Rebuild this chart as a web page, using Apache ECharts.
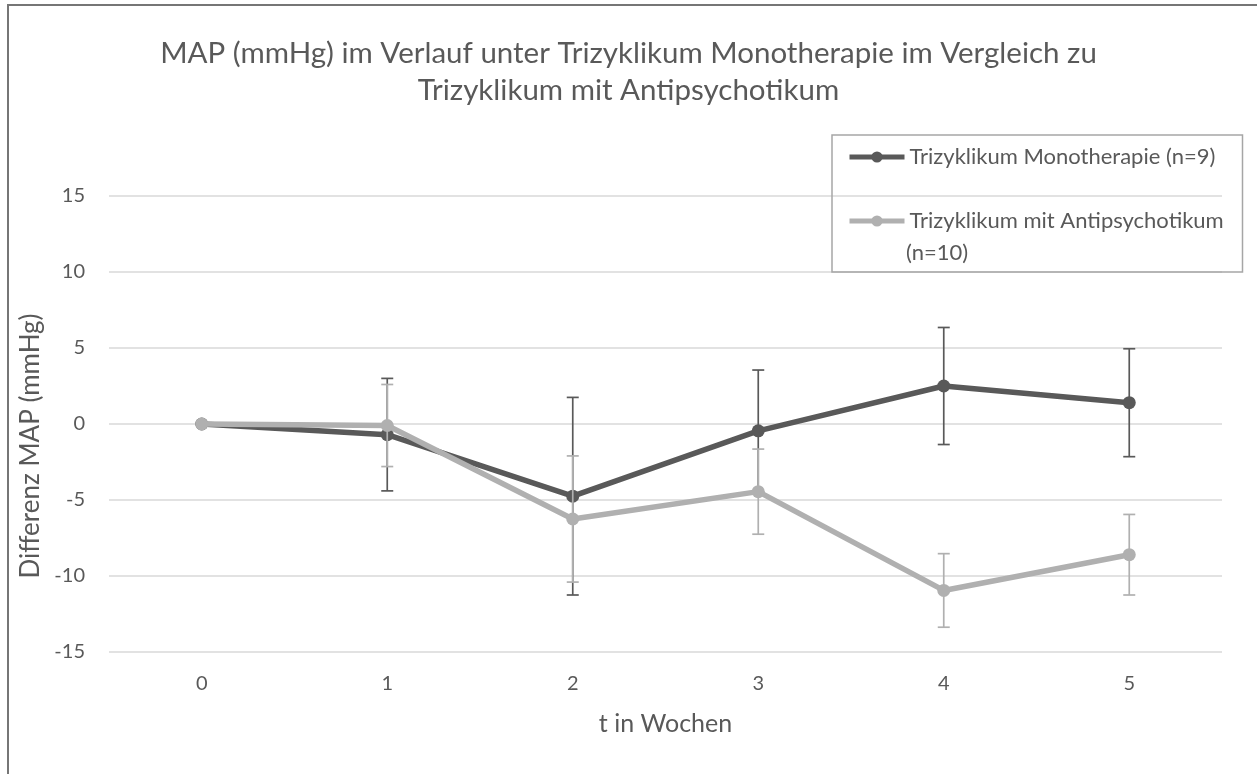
<!DOCTYPE html>
<html>
<head>
<meta charset="utf-8">
<script src="https://cdn.jsdelivr.net/npm/echarts@6/dist/echarts.min.js"></script>
<style>
html,body{margin:0;padding:0;background:#fff;}
#chart{width:1257px;height:774px;}
</style>
</head>
<body>
<div id="chart"></div>
<script>
const categories = ['0', '1', '2', '3', '4', '5'];
const yTicks = [-15, -10, -5, 0, 5, 10, 15];
const monoName = 'Trizyklikum Monotherapie (n=9)';
const antiName = 'Trizyklikum mit Antipsychotikum';
const antiNameSuffix = '(n=10)';
const monoMean = [0, -0.7, -4.75, -0.45, 2.5, 1.4];
const monoErr = [0, 3.7, 6.5, 4.0, 3.85, 3.55];
const antiMean = [0, -0.1, -6.25, -4.45, -10.95, -8.6];
const antiErr = [0, 2.7, 4.15, 2.8, 2.42, 2.65];

const FONT = 'Lato';
const TXT = '#595959';
const DARK = '#595959';
const LIGHT = '#b0b0b0';

function errData(mean, err) {
  return mean.map((m, i) => [i, m - err[i], m + err[i], err[i]]);
}
function errRender(color) {
  return function (params, api) {
    if (api.value(3) === 0) return null;
    const lo = api.coord([api.value(0), api.value(1)]);
    const hi = api.coord([api.value(0), api.value(2)]);
    const hw = 6;
    const st = { stroke: color, lineWidth: 1.7 };
    return {
      type: 'group',
      children: [
        { type: 'line', shape: { x1: lo[0], y1: lo[1], x2: hi[0], y2: hi[1] }, style: st },
        { type: 'line', shape: { x1: lo[0] - hw, y1: lo[1], x2: lo[0] + hw, y2: lo[1] }, style: st },
        { type: 'line', shape: { x1: hi[0] - hw, y1: hi[1], x2: hi[0] + hw, y2: hi[1] }, style: st }
      ]
    };
  };
}

const chart = echarts.init(document.getElementById('chart'));
chart.setOption({
  animation: false,
  textStyle: { fontFamily: FONT },
  title: {
    text: 'MAP (mmHg) im Verlauf unter Trizyklikum Monotherapie im Vergleich zu\nTrizyklikum mit Antipsychotikum',
    left: 'center',
    top: 30,
    textStyle: { fontFamily: FONT, fontSize: 29.5, fontWeight: 'normal', color: TXT, lineHeight: 37, align: 'center' }
  },
  graphic: [
    { type: 'rect', silent: true, z: -1, shape: { x: 8, y: 5, width: 1400, height: 1000 }, style: { fill: 'none', stroke: '#767676', lineWidth: 2 } },
    { type: 'text', left: 906, top: 242, style: { text: antiNameSuffix, font: '22px ' + FONT, fill: TXT } }
  ],
  legend: {
    orient: 'vertical',
    left: 832,
    top: 135,
    data: [monoName, antiName],
    itemWidth: 55,
    itemHeight: 14,
    itemGap: 40,
    padding: [10, 13, 39, 15],
    borderColor: '#a6a6a6',
    borderWidth: 1.5,
    lineStyle: { width: 5 },
    textStyle: { fontFamily: FONT, fontSize: 22, color: TXT, width: 320, lineHeight: 24 }
  },
  grid: { left: 109, right: 35, top: 196, bottom: 122 },
  xAxis: {
    type: 'category',
    data: categories,
    boundaryGap: true,
    name: 't in Wochen',
    nameLocation: 'middle',
    nameGap: 59,
    nameTextStyle: { fontFamily: FONT, fontSize: 25, color: TXT },
    axisLine: { show: false },
    axisTick: { show: false },
    axisLabel: { fontFamily: FONT, fontSize: 20, color: TXT, margin: 22 }
  },
  yAxis: {
    type: 'value',
    min: -15,
    max: 15,
    interval: 5,
    name: 'Differenz MAP (mmHg)',
    nameLocation: 'middle',
    nameGap: 62,
    nameTextStyle: { fontFamily: FONT, fontSize: 26, color: TXT, padding: [0, 44, 0, 0] },
    axisLine: { show: false },
    axisTick: { show: false },
    axisLabel: { fontFamily: FONT, fontSize: 20, color: TXT, margin: 24,
      formatter: v => yTicks.includes(v) ? String(v) : '' },
    splitLine: { lineStyle: { color: '#d9d9d9', width: 1.5 } }
  },
  series: [
    { type: 'custom', name: 'monoErr', renderItem: errRender(DARK), data: errData(monoMean, monoErr), z: 2, silent: true,
      encode: { x: 0, y: [1, 2] } },
    { type: 'line', name: monoName, data: monoMean, z: 3, symbol: 'circle', symbolSize: 13,
      lineStyle: { color: DARK, width: 5.5 }, itemStyle: { color: DARK } },
    { type: 'custom', name: 'antiErr', renderItem: errRender(LIGHT), data: errData(antiMean, antiErr), z: 4, silent: true,
      encode: { x: 0, y: [1, 2] } },
    { type: 'line', name: antiName, data: antiMean, z: 5, symbol: 'circle', symbolSize: 13,
      lineStyle: { color: LIGHT, width: 5.5 }, itemStyle: { color: LIGHT } }
  ]
});
</script>
</body>
</html>
